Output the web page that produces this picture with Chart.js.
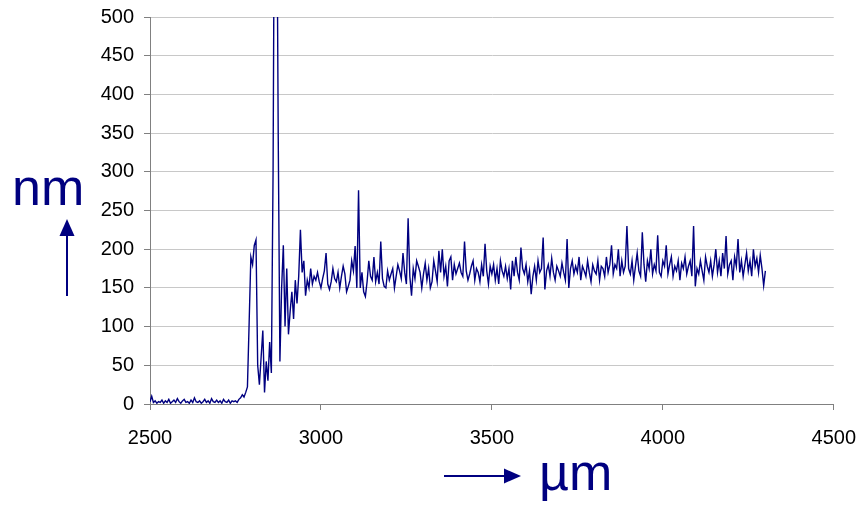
<!DOCTYPE html>
<html>
<head>
<meta charset="utf-8">
<script src="https://cdn.jsdelivr.net/npm/chart.js@4"></script>
<style>
  body { margin: 0; background: #fff; overflow: hidden; }
  #wrap { position: relative; width: 859px; height: 505px; overflow: hidden; }
  #chart { position: absolute; left: 0; top: -5px; }
  .title { position: absolute; color: #000080; font-family: "Liberation Sans", Arial, sans-serif; font-size: 52px; line-height: 1; }
</style>
</head>
<body>
<div id="wrap">
  <canvas id="chart" width="872" height="510"></canvas>
  <div class="title" style="left:12px; top:161px;">nm</div>
  <svg style="position:absolute; left:0; top:0;" width="859" height="505">
    <line x1="67" y1="296" x2="67" y2="232" stroke="#000080" stroke-width="2"/>
    <polygon points="59.5,236 74.5,236 67,219" fill="#000080"/>
    <line x1="444" y1="476" x2="507" y2="476" stroke="#000080" stroke-width="2"/>
    <polygon points="504,468.5 504,483.5 521,476" fill="#000080"/>
  </svg>
  <div class="title" style="left:539px; top:446px;">µm</div>
</div>
<script>
// sampling grid of the spectrum (µm)
const startUm = 2500
const stepUm = 5

// thickness readings (nm), one every 5 µm from 2500 to 4300
const thickness = [
  3, 10, 2, 4, 1, 3, 2, 5, 1, 4,
  2, 6, 1, 3, 5, 2, 7, 3, 1, 4,
  6, 2, 3, 1, 5, 2, 8, 3, 2, 4,
  1, 3, 6, 2, 4, 1, 7, 3, 2, 5,
  2, 4, 1, 6, 3, 2, 5, 1, 4, 3,
  4, 2, 6, 8, 12, 9, 15, 22, 105, 190,
  180, 205, 212, 50, 25, 60, 95, 15, 55, 30,
  80, 40, 300, 800, 750, 350, 55, 150, 205, 100,
  175, 90, 120, 145, 110, 160, 130, 165, 225, 170,
  185, 140, 160, 150, 175, 155, 165, 160, 170, 158,
  150, 162, 172, 195, 155, 148, 158, 175, 162, 158,
  170, 150, 165, 178, 168, 145, 152, 160, 185, 172,
  204, 150, 276, 150, 170, 145, 139, 158, 185, 165,
  160, 190, 158, 170, 155, 210, 162, 152, 150, 172,
  160, 168, 175, 150, 165, 180, 172, 162, 195, 170,
  155, 240, 165, 140, 175, 162, 185, 178, 170, 150,
  168, 182, 160, 175, 150, 158, 185, 172, 158, 198,
  170, 200, 165, 178, 152, 185, 190, 160, 180, 168,
  175, 182, 170, 165, 210, 172, 160, 168, 178, 185,
  160, 175, 170, 158, 180, 165, 207, 172, 155, 178,
  168, 180, 160, 175, 155, 185, 172, 165, 178, 162,
  175, 148, 185, 165, 190, 170, 160, 202, 175, 168,
  180, 158, 172, 142, 165, 178, 160, 185, 170, 175,
  215, 148, 172, 180, 165, 188, 170, 160, 178, 172,
  165, 182, 170, 160, 213, 150, 175, 185, 168, 178,
  170, 190, 160, 178, 172, 165, 185, 170, 158, 180,
  172, 168, 185, 160, 178, 175, 165, 190, 170, 180,
  205, 168, 180, 175, 200, 165, 185, 170, 178, 230,
  175, 168, 185, 160, 178, 195, 172, 165, 222, 180,
  158, 185, 175, 200, 168, 180, 172, 218, 170, 165,
  185, 178, 205, 168, 180, 190, 165, 178, 172, 185,
  160, 182, 175, 190, 168, 178, 185, 165, 230, 152,
  175, 168, 185, 172, 160, 190, 178, 170, 185, 165,
  180, 200, 170, 185, 165, 195, 175, 217, 168, 180,
  185, 160, 190, 178, 213, 170, 185, 165, 180, 195,
  172, 185, 165, 200, 178, 188, 170, 192, 175, 153,
  172
]

const xTicks = [2500, 3000, 3500, 4000, 4500]
const yTicks = [0, 50, 100, 150, 200, 250, 300, 350, 400, 450, 500]

const points = thickness.map((v, i) => ({ x: startUm + i * stepUm, y: v }))

const tickFont = { family: "Liberation Sans", size: 20 }

new Chart("chart", {
    type: "line",
    data: {
        datasets: [{
            data: points,
            borderColor: "#000080",
            borderWidth: 1.4,
            pointRadius: 0,
            tension: 0,
            fill: false
        }]
    },
    options: {
        responsive: false,
        animation: false,
        layout: { padding: { top: 5, right: 16, left: 0, bottom: 0 } },
        plugins: { legend: { display: false }, tooltip: { enabled: false } },
        scales: {
            x: {
                type: "linear",
                min: 2500,
                max: 4500,
                afterBuildTicks: (s) => { s.ticks = xTicks.map(v => ({ value: v })) },
                afterFit: (s) => { s.height = 101 },
                grid: { drawOnChartArea: false, tickLength: 6, color: "#808080" },
                border: { color: "#808080" },
                ticks: { color: "#000", padding: 16, font: tickFont, callback: (v) => String(v) }
            },
            y: {
                min: 0,
                max: 500,
                afterBuildTicks: (s) => { s.ticks = yTicks.map(v => ({ value: v })) },
                afterFit: (s) => { s.width = 150 },
                grid: { color: "#c8c8c8", tickLength: 6, tickColor: "#808080" },
                border: { color: "#808080" },
                ticks: { color: "#000", padding: 10, font: tickFont }
            }
        }
    }
});
</script>
</body>
</html>
